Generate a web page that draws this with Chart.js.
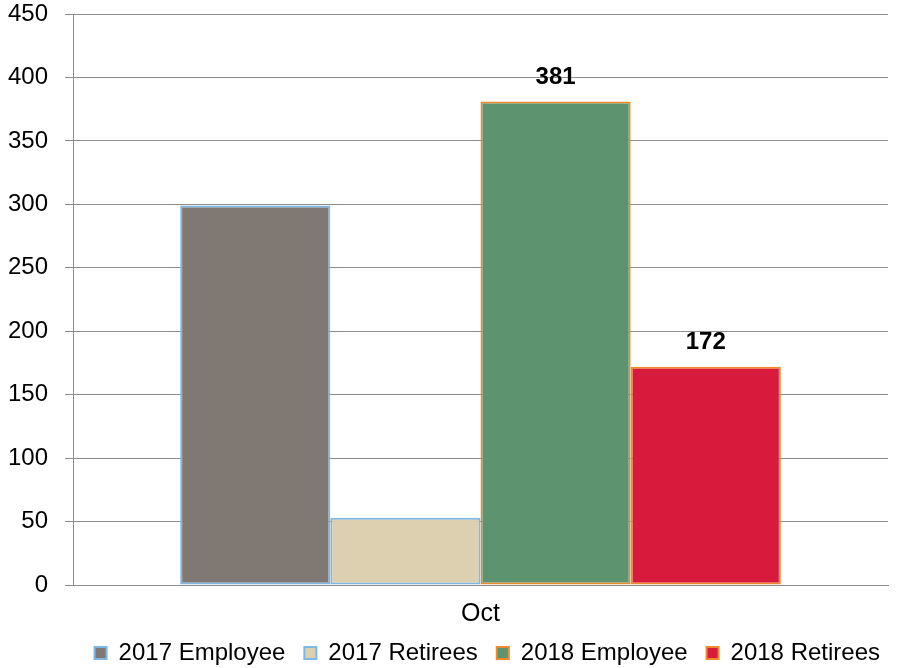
<!DOCTYPE html>
<html>
<head>
<meta charset="utf-8">
<script src="https://cdn.jsdelivr.net/npm/chart.js@4/dist/chart.umd.min.js"></script>
<style>
  html, body { margin: 0; padding: 0; background: #fff; }
  #wrap { width: 899px; height: 668px; }
</style>
</head>
<body>
<div id="wrap"><canvas id="c" width="899" height="668"></canvas></div>
<script>
// Monthly counts by group
const categories = ['Oct'];
const seriesNames = ['2017 Employee', '2017 Retirees', '2018 Employee', '2018 Retirees'];
const employee2017 = [299];
const retirees2017 = [53];
const employee2018 = [381];
const retirees2018 = [172];
const yTicks = [0, 50, 100, 150, 200, 250, 300, 350, 400, 450];

// Which series carry a value label above the bar
const labelled = [false, false, true, true];

const fills = ['#7f7873', '#ddd0b0', '#5e9370', '#d81b3c'];
const borders = ['#7cb8e4', '#7cb8e4', '#ee8a2c', '#ee8a2c'];
const FONT = '"Liberation Sans", Arial, sans-serif';

const valueLabels = {
  id: 'valueLabels',
  afterDatasetsDraw(chart) {
    const ctx = chart.ctx;
    ctx.save();
    ctx.font = 'bold 24px ' + FONT;
    ctx.fillStyle = '#000';
    ctx.textAlign = 'center';
    ctx.textBaseline = 'middle';
    chart.data.datasets.forEach((ds, i) => {
      if (!labelled[i]) return;
      const meta = chart.getDatasetMeta(i);
      meta.data.forEach((bar, j) => {
        ctx.fillText(String(ds.data[j]), bar.x, bar.y - 24);
      });
    });
    ctx.restore();
  }
};

// Keep the legend row compact and place it under the plot
const legendFit = {
  id: 'legendFit',
  beforeLayout(chart) {
    const lg = chart.legend;
    if (lg && !lg._compact) {
      const fit = lg.fit.bind(lg);
      lg.fit = function () { fit(); this.height = 41; };
      lg._compact = true;
    }
  },
  afterLayout(chart) {
    const lg = chart.legend;
    if (lg) {
      lg.top -= 5;
      lg.bottom = chart.height;
      lg.left += 15;
      lg.right = chart.width;
    }
  }
};

const values = [employee2017, retirees2017, employee2018, retirees2018];

new Chart(document.getElementById('c'), {
  type: 'bar',
  data: {
    labels: categories,
    datasets: seriesNames.map((name, i) => ({
      label: name,
      data: values[i],
      backgroundColor: fills[i],
      borderColor: borders[i],
      borderWidth: 2,
      borderSkipped: false,
      categoryPercentage: 0.737,
      barPercentage: 1.0
    }))
  },
  options: {
    responsive: false,
    animation: false,
    layout: { padding: { top: 0, right: 11, left: 0, bottom: 0 } },
    plugins: {
      legend: {
        position: 'bottom',
        align: 'end',
        labels: {
          boxWidth: 12,
          boxHeight: 12,
          padding: 19,
          color: '#000',
          font: { family: FONT, size: 24 },
          generateLabels(chart) {
            return chart.data.datasets.map((ds, i) => ({
              text: ds.label,
              fillStyle: fills[i],
              strokeStyle: borders[i],
              lineWidth: 2,
              fontColor: '#000',
              datasetIndex: i,
              hidden: false
            }));
          }
        }
      },
      tooltip: { enabled: false }
    },
    scales: {
      x: {
        grid: { display: false },
        border: { display: true, color: '#8c8c8c', width: 1 },
        afterFit(scale) { scale.height = 42; },
        ticks: {
          color: '#000',
          padding: 6,
          font: { family: FONT, size: 25 }
        }
      },
      y: {
        min: 0,
        max: 450,
        afterBuildTicks(scale) {
          scale.ticks = yTicks.map(v => ({ value: v }));
        },
        afterFit(scale) {
          scale.width = 73;
          scale.paddingTop = 14;
          scale.paddingBottom = 0;
        },
        grid: { color: '#8c8c8c', lineWidth: 1, tickLength: 8, drawTicks: true },
        border: { display: true, color: '#8c8c8c', width: 1 },
        ticks: {
          color: '#000',
          padding: 17,
          font: { family: FONT, size: 24 }
        }
      }
    }
  },
  plugins: [valueLabels, legendFit]
});
</script>
</body>
</html>
